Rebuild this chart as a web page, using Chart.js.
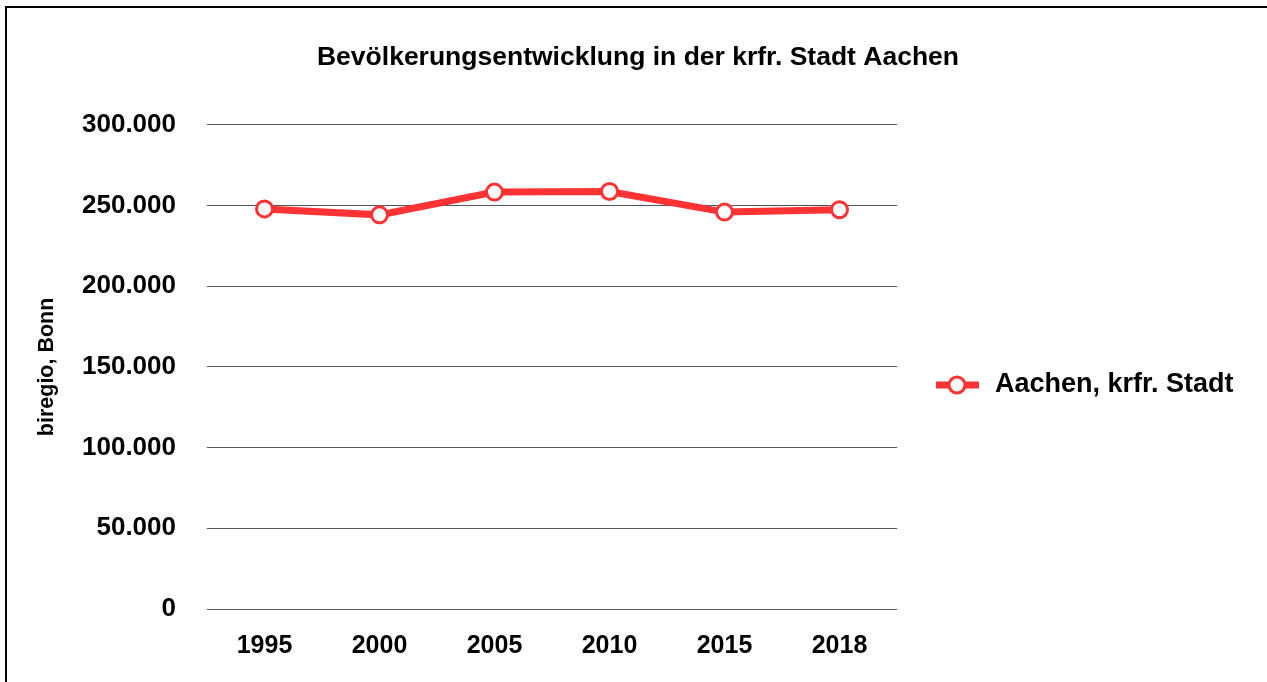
<!DOCTYPE html>
<html>
<head>
<meta charset="utf-8">
<script src="https://cdn.jsdelivr.net/npm/chart.js@4/dist/chart.umd.min.js"></script>
<style>
  html, body { margin: 0; padding: 0; background: #fff; overflow: hidden; }
  #wrap { position: relative; width: 1267px; height: 682px; }
  #frame { position: absolute; left: 5px; top: 6px; width: 1400px; height: 800px; border: 2px solid #000; box-sizing: border-box; }
  canvas { position: absolute; left: 0; top: 0; }
</style>
</head>
<body>
<div id="wrap">
  <div id="frame"></div>
  <canvas id="popChart" width="1267" height="682"></canvas>
</div>
<script>
// Data
const years = ['1995', '2000', '2005', '2010', '2015', '2018'];
const population = [247900, 244200, 258300, 258700, 245900, 247400];
const seriesLabel = 'Aachen, krfr. Stadt';
const yTicks = [0, 50000, 100000, 150000, 200000, 250000, 300000];

const lineRed = '#ff3333';
const fontFamily = '"Liberation Sans", Arial, sans-serif';

function fmt(v) {
  return v.toLocaleString('de-DE');
}

// Legend drawn to the right of the plot: line + hollow marker, then label
const sideLegend = {
  id: 'sideLegend',
  afterDraw(chart) {
    const ctx = chart.ctx;
    const ds = chart.data.datasets[0];
    const x0 = chart.chartArea.right + 39;
    const y0 = 385;
    ctx.save();
    ctx.strokeStyle = ds.borderColor;
    ctx.lineWidth = ds.borderWidth;
    ctx.beginPath();
    ctx.moveTo(x0, y0);
    ctx.lineTo(x0 + 43, y0);
    ctx.stroke();
    ctx.beginPath();
    ctx.arc(x0 + 21, y0, 8, 0, Math.PI * 2);
    ctx.fillStyle = '#fff';
    ctx.fill();
    ctx.lineWidth = 3;
    ctx.stroke();
    ctx.fillStyle = '#000';
    ctx.font = 'bold 27px ' + fontFamily;
    ctx.textBaseline = 'middle';
    ctx.fillText(ds.label, x0 + 59, y0);
    ctx.restore();
  }
};

new Chart(document.getElementById('popChart'), {
  type: 'line',
  data: {
    labels: years,
    datasets: [{
      label: seriesLabel,
      data: population,
      borderColor: lineRed,
      borderWidth: 7,
      pointRadius: 8,
      pointBorderWidth: 3,
      pointBackgroundColor: '#fff',
      pointBorderColor: lineRed,
      tension: 0
    }]
  },
  options: {
    responsive: false,
    animation: false,
    layout: { padding: { top: 42, left: 34, right: 25, bottom: 0 } },
    plugins: {
      legend: { display: false },
      tooltip: { enabled: false },
      title: {
        display: true,
        text: 'Bevölkerungsentwicklung in der krfr. Stadt Aachen',
        color: '#000',
        font: { family: fontFamily, size: 26.5, weight: 'bold' },
        padding: { top: 0, bottom: 51 }
      }
    },
    scales: {
      x: {
        offset: true,
        grid: { display: false, drawTicks: false },
        border: { display: false },
        ticks: {
          color: '#000',
          padding: 22,
          font: { family: fontFamily, size: 25, weight: 'bold' }
        },
        afterFit: axis => { axis.height = 73; }
      },
      y: {
        min: 0,
        max: 300000,
        afterBuildTicks: axis => { axis.ticks = yTicks.map(v => ({ value: v })); },
        afterFit: axis => { axis.width = 173; },
        grid: { color: '#555', lineWidth: 1, drawTicks: false },
        border: { display: false },
        ticks: {
          color: '#000',
          padding: 31,
          font: { family: fontFamily, size: 26, weight: 'bold' },
          callback: v => fmt(v)
        },
        title: {
          display: true,
          text: 'biregio, Bonn',
          color: '#000',
          font: { family: fontFamily, size: 21.5, weight: 'bold' },
          padding: { top: 0, bottom: 0 }
        }
      },
      // empty right-hand column that holds the legend
      legendSpace: {
        type: 'linear',
        position: 'right',
        display: true,
        grid: { display: false, drawTicks: false },
        border: { display: false },
        ticks: { display: false },
        afterFit: axis => { axis.width = 345; }
      }
    }
  },
  plugins: [sideLegend]
});
</script>
</body>
</html>
